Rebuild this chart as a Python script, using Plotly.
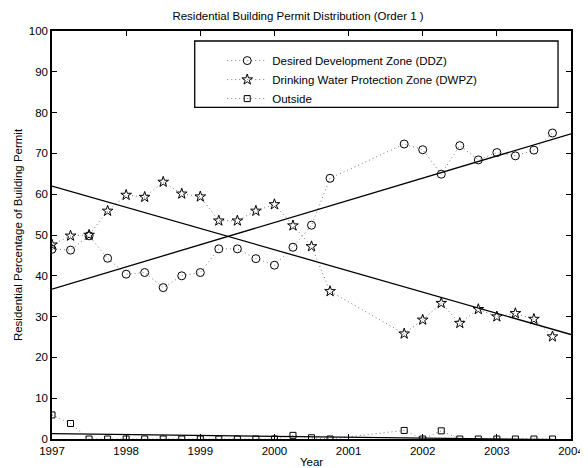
import numpy as np
import plotly.graph_objects as go

years = [1997.0, 1997.25, 1997.5, 1997.75, 1998.0, 1998.25, 1998.5, 1998.75,
         1999.0, 1999.25, 1999.5, 1999.75, 2000.0, 2000.25, 2000.5, 2000.75,
         2001.75, 2002.0, 2002.25, 2002.5, 2002.75, 2003.0, 2003.25, 2003.5, 2003.75]

ddz = [46.5, 46.3, 49.8, 44.3, 40.4, 40.8, 37.1, 40.0,
       40.8, 46.6, 46.6, 44.2, 42.6, 47.0, 52.4, 63.9,
       72.3, 70.9, 64.9, 71.9, 68.4, 70.2, 69.4, 70.8, 75.0]

dwpz = [47.6, 49.8, 50.0, 55.9, 59.8, 59.3, 63.0, 60.1,
        59.4, 53.5, 53.5, 55.9, 57.5, 52.3, 47.2, 36.2,
        25.8, 29.2, 33.3, 28.4, 31.8, 30.0, 30.8, 29.4, 25.1]

outside = [5.9, 3.8, 0.0, 0.0, 0.0, 0.0, 0.0, 0.0,
           0.0, 0.0, 0.0, 0.0, 0.0, 0.9, 0.3, 0.0,
           2.1, 0.0, 2.0, 0.0, 0.0, 0.0, 0.0, 0.0, 0.0]

series_names = ["Desired Development Zone (DDZ)",
                "Drinking Water Protection Zone (DWPZ)",
                "Outside"]
x_ticks = [1997, 1998, 1999, 2000, 2001, 2002, 2003, 2004]
y_ticks = [0, 10, 20, 30, 40, 50, 60, 70, 80, 90, 100]

FONT = "Liberation Sans, Arial, Helvetica, sans-serif"
FS = 11.5
symbols = ["circle-open", "star-open", "square-open"]
sizes = [8, 8, 6]

fig = go.Figure()
x_arr = np.array(years)
fit_x = np.array([x_ticks[0], x_ticks[-1]])
for name, vals, sym, sz in zip(series_names, [ddz, dwpz, outside], symbols, sizes):
    fig.add_trace(go.Scatter(
        x=years, y=vals, mode="lines+markers", name=name,
        line=dict(color="#777777", width=1, dash="1px,3px"),
        marker=dict(symbol=sym, size=sz, color="black", line=dict(width=1, color="black")),
    ))
for vals in [ddz, dwpz, outside]:
    coef = np.polyfit(x_arr, np.array(vals), 1)
    fig.add_trace(go.Scatter(
        x=fit_x, y=np.polyval(coef, fit_x), mode="lines", showlegend=False,
        line=dict(color="black", width=1.3), hoverinfo="skip",
    ))

axis_common = dict(
    showgrid=False, zeroline=False, showline=True, linecolor="black", linewidth=1.5,
    mirror="ticks", ticks="inside", ticklen=5, tickwidth=1, tickcolor="black",
    tickfont=dict(family=FONT, size=FS, color="black"), automargin=False,
)
fig.update_xaxes(range=[1997, 2004], tickvals=x_ticks, ticktext=[str(t) for t in x_ticks],
                 title=dict(text="Year", font=dict(family=FONT, size=FS, color="black"), standoff=6),
                 **axis_common)
fig.update_yaxes(range=[0, 100], tickvals=y_ticks,
                 title=dict(text="Residential Percentage of Building Permit",
                            font=dict(family=FONT, size=FS, color="black"), standoff=4),
                 **axis_common)

fig.add_shape(type="rect", xref="paper", yref="paper",
              x0=0.275, x1=0.975, y0=0.813, y1=0.9755,
              line=dict(color="black", width=1.3), fillcolor="white", layer="below")

fig.update_layout(
    width=580, height=460,
    margin=dict(l=44.3, r=17, t=22.7, b=28.7),
    paper_bgcolor="white", plot_bgcolor="white",
    title=dict(text="Residential Building Permit Distribution (Order 1 )",
               x=0.5, xanchor="center", y=1 - 8 / 460, yanchor="middle",
               font=dict(family=FONT, size=FS, color="black")),
    legend=dict(x=0.328, y=0.963, xanchor="left", yanchor="top",
                bgcolor="rgba(0,0,0,0)", borderwidth=0,
                font=dict(family=FONT, size=FS, color="black"),
                tracegroupgap=0, itemwidth=40),
    showlegend=True,
)

fig.write_html("out.html")
